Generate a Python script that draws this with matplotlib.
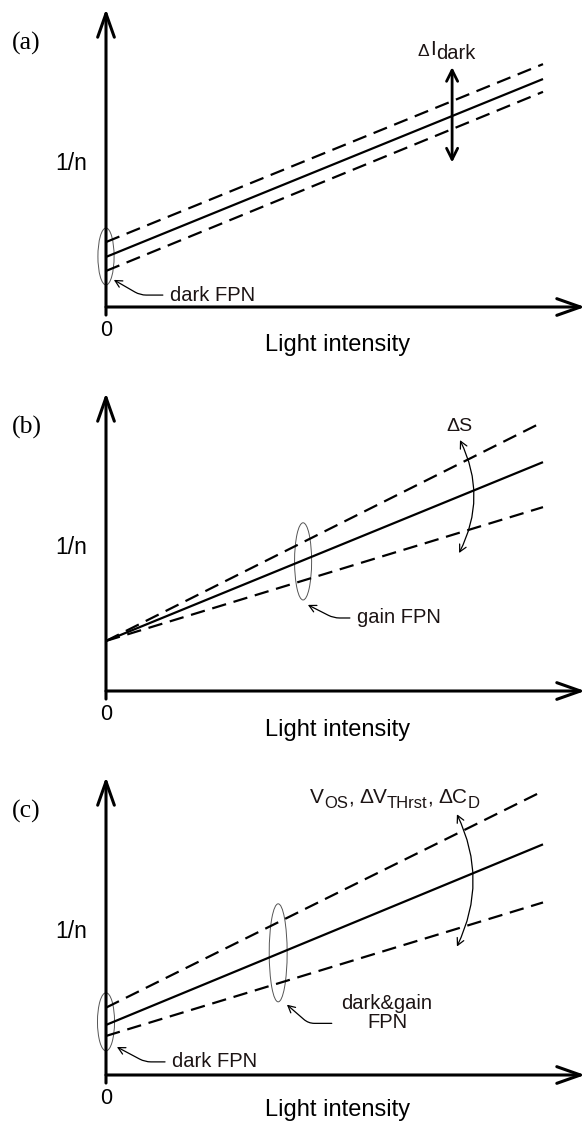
import matplotlib
matplotlib.use('Agg')
import matplotlib.pyplot as plt
from matplotlib.patches import Ellipse
import numpy as np

plt.rcParams['font.family'] = ['Liberation Sans', 'DejaVu Sans']

# ---------------- data ----------------
panel_labels = ['(a)', '(b)', '(c)']
x_range = [0.0, 1.0]                  # light intensity (normalised)
# 1/n at x=0 and x=1 : upper dashed, solid, lower dashed
a_upper = [0.218, 0.815]
a_mid = [0.168, 0.765]
a_lower = [0.121, 0.722]
b_upper = [0.168, 0.903]
b_mid = [0.168, 0.768]
b_lower = [0.168, 0.617]
c_upper = [0.226, 0.953]
c_mid = [0.168, 0.774]
c_lower = [0.131, 0.579]
x_label = 'Light intensity'
y_label = '1/n'
origin_label = '0'

# ---------------- layout ----------------
W, H = 587, 1126
fig = plt.figure(figsize=(W / 100, H / 100), dpi=100)
fig.patch.set_facecolor('white')

AX_LEFT, AX_RIGHT, LINE_END = 106, 585, 543
XAXIS_PX = [307, 691, 1075]
XLABEL_Y = [-0.127, -0.13, -0.118]
PANEL_H = 298
XMAX = (AX_RIGHT - AX_LEFT) / (LINE_END - AX_LEFT)
TXT = '#1c1414'

def make_axes(i):
    ax = fig.add_axes([AX_LEFT / W, (H - XAXIS_PX[i]) / H,
                       (AX_RIGHT - AX_LEFT) / W, PANEL_H / H])
    ax.set_xlim(0, XMAX)
    ax.set_ylim(0, 1)
    ax.axis('off')
    ap = dict(arrowstyle='->,head_length=17,head_width=6', lw=2.2, color='k',
              shrinkA=0, shrinkB=0, mutation_scale=1)
    ax.annotate('', xy=(1, 0), xycoords='axes fraction', xytext=(0, 0),
                arrowprops=ap, annotation_clip=False)
    ax.annotate('', xy=(0, 1), xycoords='axes fraction', xytext=(0, -0.027),
                arrowprops=ap, annotation_clip=False)
    ax.text(0, -0.078, origin_label, ha='center', va='center', fontsize=15.5, color='k')
    ax.text(0.531, XLABEL_Y[i], x_label, ha='center', va='center', fontsize=17, color='k')
    ax.text(-0.08, 0.483, y_label, ha='center', va='center', fontsize=16.5, color='k')
    return ax

def draw_lines(ax, upper, mid, lower):
    ax.plot(x_range, mid, color='k', lw=1.6, solid_capstyle='butt')
    for ys in (upper, lower):
        ax.plot(x_range, ys, color='k', lw=1.6, dashes=(6.5, 3.5), dash_capstyle='butt')

def ellipse(ax, x, upper, lower, pad, w):
    yu = np.interp(x, x_range, upper)
    yl = np.interp(x, x_range, lower)
    ax.add_patch(Ellipse((x, (yu + yl) / 2), w, (yu - yl) + 2 * pad,
                         fill=False, ec='#555555', lw=0.7, clip_on=False))

def callout(ax, text, xytext, tip, angleB, ha='left', relpos=(0, 0.5), **kw):
    ax.annotate(text, xy=tip, xytext=xytext, ha=ha, va='center', fontsize=14.5,
                color=TXT, annotation_clip=False,
                arrowprops=dict(arrowstyle='->,head_length=5,head_width=2.6',
                                connectionstyle=f'angle,angleA=0,angleB={angleB},rad=6',
                                lw=0.9, color='k', shrinkA=3, shrinkB=0,
                                mutation_scale=1, relpos=relpos), **kw)

def curved_double(ax, top, bottom, rad):
    ax.annotate('', xy=bottom, xytext=top, annotation_clip=False,
                arrowprops=dict(arrowstyle='<->,head_length=5,head_width=2.6',
                                connectionstyle=f'arc3,rad={rad}', lw=0.9,
                                color='k', shrinkA=0, shrinkB=0, mutation_scale=1))

def chain_text(ax, x, y, parts):
    base = ax.text(x, y, parts[0][0], fontsize=parts[0][1], ha='left',
                   va='baseline', color=TXT)
    prev = base
    for s, size, dx, dy in parts[1:]:
        prev = ax.annotate(s, xy=(1, 0), xycoords=(prev, base), xytext=(dx, dy),
                           textcoords='offset points', fontsize=size, ha='left',
                           va='bottom', color=TXT, annotation_clip=False)

def panel_label(ax, lab):
    ax.text(-0.215, 0.885, lab, ha='left', va='center', fontsize=18.5,
            family='Liberation Serif', color='k')

# ---------------- panel (a) ----------------
ax = make_axes(0)
panel_label(ax, panel_labels[0])
draw_lines(ax, a_upper, a_mid, a_lower)
ellipse(ax, 0.0, a_upper, a_lower, 0.047, 0.037)
callout(ax, 'dark FPN', (0.146, 0.040), (0.018, 0.091), -30)
ax.annotate('', xy=(0.792, 0.805), xytext=(0.792, 0.485), annotation_clip=False,
            arrowprops=dict(arrowstyle='<->,head_length=8,head_width=4', lw=2.0,
                            color='k', shrinkA=0, shrinkB=0, mutation_scale=1))
chain_text(ax, 0.712, 0.842, [('Δ', 12.5), ('I', 15, 1.0, 0), ('dark', 14.5, 0.5, -3)])

# ---------------- panel (b) ----------------
ax = make_axes(1)
panel_label(ax, panel_labels[1])
draw_lines(ax, b_upper, b_mid, b_lower)
ellipse(ax, 0.451, b_upper, b_lower, 0.065, 0.039)
callout(ax, 'gain FPN', (0.574, 0.245), (0.462, 0.289), -27)
curved_double(ax, (0.810, 0.842), (0.808, 0.463), -0.25)
ax.text(0.809, 0.886, 'ΔS', ha='center', va='center', fontsize=14, color=TXT)

# ---------------- panel (c) ----------------
ax = make_axes(2)
panel_label(ax, panel_labels[2])
draw_lines(ax, c_upper, c_mid, c_lower)
ellipse(ax, 0.0, c_upper, c_lower, 0.05, 0.039)
ellipse(ax, 0.394, c_upper, c_lower, 0.062, 0.041)
callout(ax, 'dark FPN', (0.151, 0.044), (0.025, 0.094), -28)
ax.annotate('dark&gain\nFPN', xy=(0.414, 0.236), xytext=(0.643, 0.209),
            ha='center', va='center', fontsize=14.5, color=TXT, linespacing=1.0,
            multialignment='center', annotation_clip=False,
            arrowprops=dict(arrowstyle='->,head_length=5,head_width=2.6',
                            connectionstyle='angle,angleA=0,angleB=-41,rad=6',
                            lw=0.9, color='k', shrinkA=5, shrinkB=0,
                            mutation_scale=1, relpos=(0, 0.22)))
curved_double(ax, (0.803, 0.875), (0.803, 0.431), -0.24)
chain_text(ax, 0.467, 0.912, [('V', 15), ('OS', 12, 0, -2.5), (',', 15, 0, 0),
                              ('ΔV', 15, 4, 0), ('THrst', 12, 0, -2.5), (',', 15, 0, 0),
                              ('ΔC', 15, 4, 0), ('D', 12, 0, -2.5)])

fig.savefig('out.png', dpi=100, facecolor='white')
